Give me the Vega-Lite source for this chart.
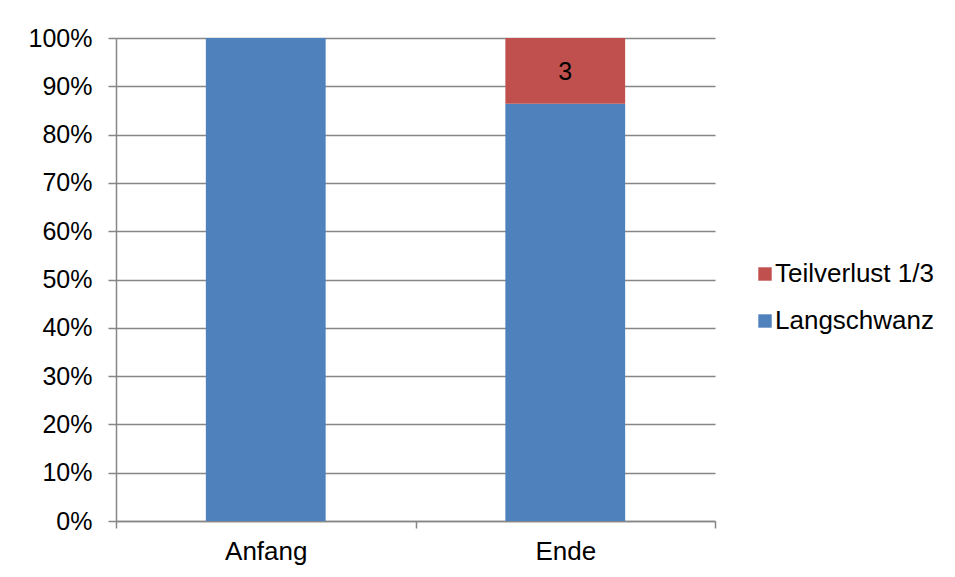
{
  "$schema": "https://vega.github.io/schema/vega-lite/v6.json",
  "autosize": "none",
  "width": 599,
  "height": 483,
  "padding": {"left": 116, "top": 38, "right": 240, "bottom": 56},
  "background": "white",
  "config": {
    "font": "Liberation Sans",
    "view": {"stroke": null},
    "axis": {"labelFont": "Liberation Sans", "labelColor": "black", "domainColor": "#868686", "tickColor": "#868686", "gridColor": "#868686", "domainWidth": 1.5, "tickWidth": 1.5, "gridWidth": 1.5}
  },
  "data": {
    "values": [
      {"cat": "Anfang", "series": "Langschwanz", "count": 22},
      {"cat": "Ende", "series": "Langschwanz", "count": 19},
      {"cat": "Ende", "series": "Teilverlust 1/3", "count": 3}
    ]
  },
  "transform": [
    {"stack": "count", "groupby": ["cat"], "sort": [{"field": "series", "order": "ascending"}], "offset": "normalize", "as": ["y0", "y1"]}
  ],
  "layer": [
    {
      "mark": {"type": "bar", "width": {"band": 0.4}},
      "encoding": {
        "x": {"field": "cat", "type": "nominal", "title": null,
          "scale": {"paddingInner": 0, "paddingOuter": 0},
          "axis": {"labelAngle": 0, "tickBand": "extent", "tickSize": 7, "labelPadding": 10, "labelFontSize": 26, "grid": false}},
        "y": {"field": "y0", "type": "quantitative", "title": null,
          "scale": {"domain": [0, 1], "nice": false},
          "axis": {"format": ".0%", "values": [0, 0.1, 0.2, 0.3, 0.4, 0.5, 0.6, 0.7, 0.8, 0.9, 1], "tickSize": 8, "labelPadding": 16, "labelFontSize": 25, "grid": true}},
        "y2": {"field": "y1"},
        "color": {"field": "series", "type": "nominal", "title": null,
          "scale": {"domain": ["Teilverlust 1/3", "Langschwanz"], "range": ["#C0504D", "#4F81BD"]},
          "legend": {"orient": "none", "legendX": 636, "legendY": 223, "symbolType": "square", "symbolSize": 180, "symbolStrokeWidth": 0, "labelFont": "Liberation Sans", "labelFontSize": 26, "labelColor": "black", "labelOffset": -3, "rowPadding": 21, "padding": 0}}
      }
    },
    {
      "transform": [{"filter": "datum.series == 'Teilverlust 1/3'"}],
      "mark": {"type": "text", "fontSize": 25, "font": "Liberation Sans", "color": "black", "baseline": "middle", "dy": 34},
      "encoding": {
        "x": {"field": "cat", "type": "nominal"},
        "y": {"field": "y1", "type": "quantitative"},
        "text": {"field": "count", "type": "quantitative"}
      }
    }
  ]
}
